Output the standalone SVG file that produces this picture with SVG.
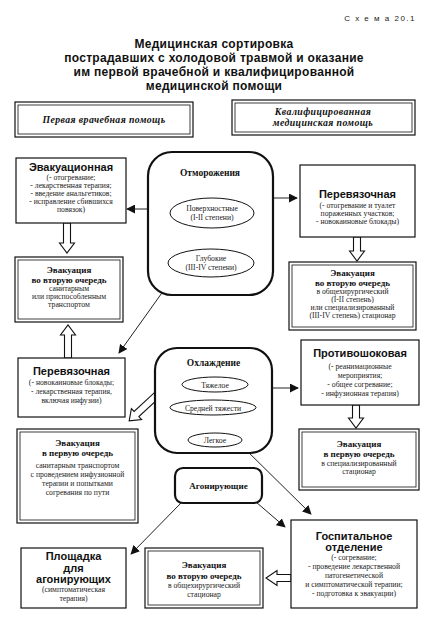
<svg xmlns="http://www.w3.org/2000/svg" width="425" height="619" viewBox="0 0 425 619">
<defs>
<style>
.t{font-family:"Liberation Sans",Arial,sans-serif;font-weight:bold;text-anchor:middle;fill:#111}
.hd{font-family:"Liberation Serif","Times New Roman",serif;font-weight:bold;font-style:italic;font-size:9.8px;text-anchor:middle;fill:#111;letter-spacing:0.4px}
.bs{font-family:"Liberation Serif","Times New Roman",serif;font-weight:bold;font-size:9px;text-anchor:middle;fill:#111}
.b{font-family:"Liberation Serif","Times New Roman",serif;font-size:7.7px;text-anchor:middle;fill:#222}
.bt{font-family:"Liberation Sans",Arial,sans-serif;font-weight:bold;font-size:11px;text-anchor:middle;fill:#111}
.box{fill:#fff;stroke:#111;stroke-width:1.2}
.in{fill:none;stroke:#111;stroke-width:0.8}
.rnd{fill:#fff;stroke:#111;stroke-width:2.2}
.el{fill:#fff;stroke:#111;stroke-width:1}
.ln{fill:none;stroke:#222;stroke-width:1}
.ha{fill:#fff;stroke:#111;stroke-width:1.1;stroke-linejoin:miter}
</style>
<marker id="ar" viewBox="0 0 10 10" refX="9" refY="5" markerWidth="9" markerHeight="9" markerUnits="userSpaceOnUse" orient="auto">
<path d="M0,0 L10,5 L0,10 Z" fill="#111"/>
</marker>
</defs>
<rect width="425" height="619" fill="#fff"/>

<text x="416" y="21" style="font-family:'Liberation Sans',Arial,sans-serif;font-size:8px;text-anchor:end;letter-spacing:1.5px;fill:#222">С х е м а 20.1</text>
<g class="t" style="font-size:12px;letter-spacing:0.3px">
<text x="214" y="48">Медицинская сортировка</text>
<text x="214" y="62">пострадавших с холодовой травмой и оказание</text>
<text x="214" y="76">им первой врачебной и квалифицированной</text>
<text x="214" y="90">медицинской помощи</text>
</g>

<g id="hdr-left">
<rect class="box" x="15" y="102" width="178" height="35"/>
<rect class="in" x="18" y="105" width="172" height="29"/>
<text class="hd" x="104" y="123">Первая  врачебная  помощь</text>
</g>
<g id="hdr-right">
<rect class="box" x="232" y="100" width="183" height="35"/>
<rect class="in" x="235" y="103" width="177" height="29"/>
<text class="hd" x="323" y="115">Квалифицированная</text>
<text class="hd" x="323" y="126">медицинская  помощь</text>
</g>

<g id="connectors">
<line class="ln" x1="170" y1="209" x2="127" y2="209" marker-end="url(#ar)"/>
<line class="ln" x1="273" y1="198" x2="297" y2="198" marker-end="url(#ar)"/>
<line class="ln" x1="174" y1="276" x2="119" y2="353" marker-end="url(#ar)"/>
<polyline class="ln" points="248,385 257,388 253,401"/>
<line class="ln" x1="257" y1="388" x2="298" y2="388" marker-end="url(#ar)"/>
<line class="ln" x1="240" y1="444" x2="311" y2="514" marker-end="url(#ar)"/>
<line class="ln" x1="181" y1="503" x2="131" y2="554" marker-end="url(#ar)"/>
<line class="ln" x1="256" y1="502" x2="285" y2="527" marker-end="url(#ar)"/>
<polygon class="ha" points="63.5,223 70.5,223 70.5,243 74.5,243 67,253 59.5,243 63.5,243"/>
<polygon class="ha" points="64.5,358 71.5,358 71.5,335 75.5,335 68,325 60.5,335 64.5,335"/>
<polygon class="ha" points="353.5,237 360.5,237 360.5,251 364.5,251 357,261 349.5,251 353.5,251"/>
<polygon class="ha" points="352.5,405 359.5,405 359.5,418 363.5,418 356,428 348.5,418 352.5,418"/>
<polygon class="ha" points="291,574.5 291,581.5 277,581.5 277,585.5 266,578 277,570.5 277,574.5"/>
<g transform="translate(157,395) rotate(137.1)">
<polygon class="ha" points="0,-3.5 28,-3.5 28,-7.5 38,0 28,7.5 28,3.5 0,3.5"/>
</g>
</g>

<g id="otmorozheniya">
<rect class="rnd" x="148" y="152" width="125" height="143" rx="24"/>
<text class="bs" x="210" y="176" style="font-size:9.5px">Отморожения</text>
<ellipse class="el" cx="212" cy="213" rx="42" ry="15"/>
<text class="b" x="212" y="211">Поверхностные</text>
<text class="b" x="212" y="220">(I-II степени)</text>
<ellipse class="el" cx="211" cy="263" rx="43" ry="14"/>
<text class="b" x="211" y="261">Глубокие</text>
<text class="b" x="211" y="270">(III-IV степени)</text>
</g>

<g id="evakuacionnaya">
<rect class="box" x="16" y="158" width="110" height="65"/>
<text class="bt" x="71" y="171">Эвакуационная</text>
<text class="b" x="71" y="180">(- отогревание;</text>
<text class="b" x="71" y="188">- лекарственная терапия;</text>
<text class="b" x="71" y="196">- введение анальгетиков;</text>
<text class="b" x="71" y="204">- исправление сбившихся</text>
<text class="b" x="71" y="212">повязок)</text>
</g>

<g id="perevyaz-right">
<rect class="box" x="300" y="165" width="115" height="72"/>
<text class="bt" x="357.5" y="198">Перевязочная</text>
<text class="b" x="357.5" y="208">(- отогревание и туалет</text>
<text class="b" x="357.5" y="216">пораженных участков;</text>
<text class="b" x="357.5" y="224">- новокаиновые блокады)</text>
</g>

<g id="evac2-left">
<rect class="box" x="15" y="257" width="108" height="65"/>
<rect class="in" x="18" y="260" width="102" height="59"/>
<text class="bs" x="69" y="273">Эвакуация</text>
<text class="bs" x="69" y="283">во вторую очередь</text>
<text class="b" x="69" y="291">санитарным</text>
<text class="b" x="69" y="299">или приспособленным</text>
<text class="b" x="69" y="307">транспортом</text>
</g>

<g id="evac2-right">
<rect class="box" x="289" y="262" width="127" height="68"/>
<rect class="in" x="292" y="265" width="121" height="62"/>
<text class="bs" x="352.5" y="276">Эвакуация</text>
<text class="bs" x="352.5" y="286">во вторую очередь</text>
<text class="b" x="352.5" y="294">в общехирургический</text>
<text class="b" x="352.5" y="302">(I-II  степень)</text>
<text class="b" x="352.5" y="310">или специализированный</text>
<text class="b" x="352.5" y="318">(III-IV степень) стационар</text>
</g>

<g id="perevyaz-left">
<rect class="box" x="18" y="358" width="107" height="59"/>
<text class="bt" x="71.5" y="375">Перевязочная</text>
<text class="b" x="71.5" y="385">(- новокаиновые блокады;</text>
<text class="b" x="71.5" y="394">- лекарственная терапия,</text>
<text class="b" x="71.5" y="403">включая инфузии)</text>
</g>

<g id="ohlazhdenie">
<rect class="rnd" x="155" y="348" width="117" height="105" rx="22"/>
<text class="bs" x="213.5" y="366" style="font-size:9.5px">Охлаждение</text>
<ellipse class="el" cx="215" cy="384.5" rx="33" ry="7.5"/>
<text class="b" x="215" y="387.5">Тяжелое</text>
<ellipse class="el" cx="213" cy="407.5" rx="43" ry="7.5"/>
<text class="b" x="213" y="410.5">Средней тяжести</text>
<ellipse class="el" cx="215" cy="440" rx="27" ry="7"/>
<text class="b" x="215" y="443">Легкое</text>
</g>

<g id="protivoshok">
<rect class="box" x="301" y="340" width="118" height="65"/>
<text class="bt" x="360" y="357">Противошоковая</text>
<text class="b" x="360" y="369">(- реанимационные</text>
<text class="b" x="360" y="378">мероприятия;</text>
<text class="b" x="360" y="387">- общее согревание;</text>
<text class="b" x="360" y="396">- инфузионная терапия)</text>
</g>

<g id="evac1-left">
<rect class="box" x="17" y="429" width="121" height="94"/>
<rect class="in" x="20" y="432" width="115" height="88"/>
<text class="bs" x="77.5" y="446">Эвакуация</text>
<text class="bs" x="77.5" y="456">в первую очередь</text>
<text class="b" x="77.5" y="468">санитарным транспортом</text>
<text class="b" x="77.5" y="477">с проведением инфузионной</text>
<text class="b" x="77.5" y="486">терапии и попытками</text>
<text class="b" x="77.5" y="495">согревания по пути</text>
</g>

<g id="evac1-right">
<rect class="box" x="299" y="429" width="120" height="61"/>
<rect class="in" x="302" y="432" width="114" height="55"/>
<text class="bs" x="359" y="447">Эвакуация</text>
<text class="bs" x="359" y="457">в первую очередь</text>
<text class="b" x="359" y="466">в специализированный</text>
<text class="b" x="359" y="474">стационар</text>
</g>

<g id="agoniruyushchie">
<rect class="rnd" x="175" y="468" width="87" height="35" rx="8"/>
<text class="bs" x="218.5" y="489">Агонирующие</text>
</g>

<g id="ploshchadka">
<rect class="box" x="21" y="548" width="105" height="60"/>
<text class="bt" x="73.5" y="560">Площадка</text>
<text class="bt" x="73.5" y="572">для</text>
<text class="bt" x="73.5" y="583">агонирующих</text>
<text class="b" x="73.5" y="592">(симптоматическая</text>
<text class="b" x="73.5" y="601">терапия)</text>
</g>

<g id="evac2-bottom">
<rect class="box" x="145" y="548" width="118" height="60"/>
<rect class="in" x="148" y="551" width="112" height="54"/>
<text class="bs" x="204" y="568">Эвакуация</text>
<text class="bs" x="204" y="579">во вторую очередь</text>
<text class="b" x="204" y="588">в общехирургический</text>
<text class="b" x="204" y="597">стационар</text>
</g>

<g id="gospital">
<rect class="box" x="291" y="520" width="126" height="88"/>
<text class="bt" x="354" y="540">Госпитальное</text>
<text class="bt" x="354" y="551">отделение</text>
<text class="b" x="354" y="560">(- согревание;</text>
<text class="b" x="354" y="569">- проведение лекарственной</text>
<text class="b" x="354" y="578">патогенетической</text>
<text class="b" x="354" y="587">и симптоматической терапии;</text>
<text class="b" x="354" y="596">- подготовка к эвакуации)</text>
</g>
</svg>
